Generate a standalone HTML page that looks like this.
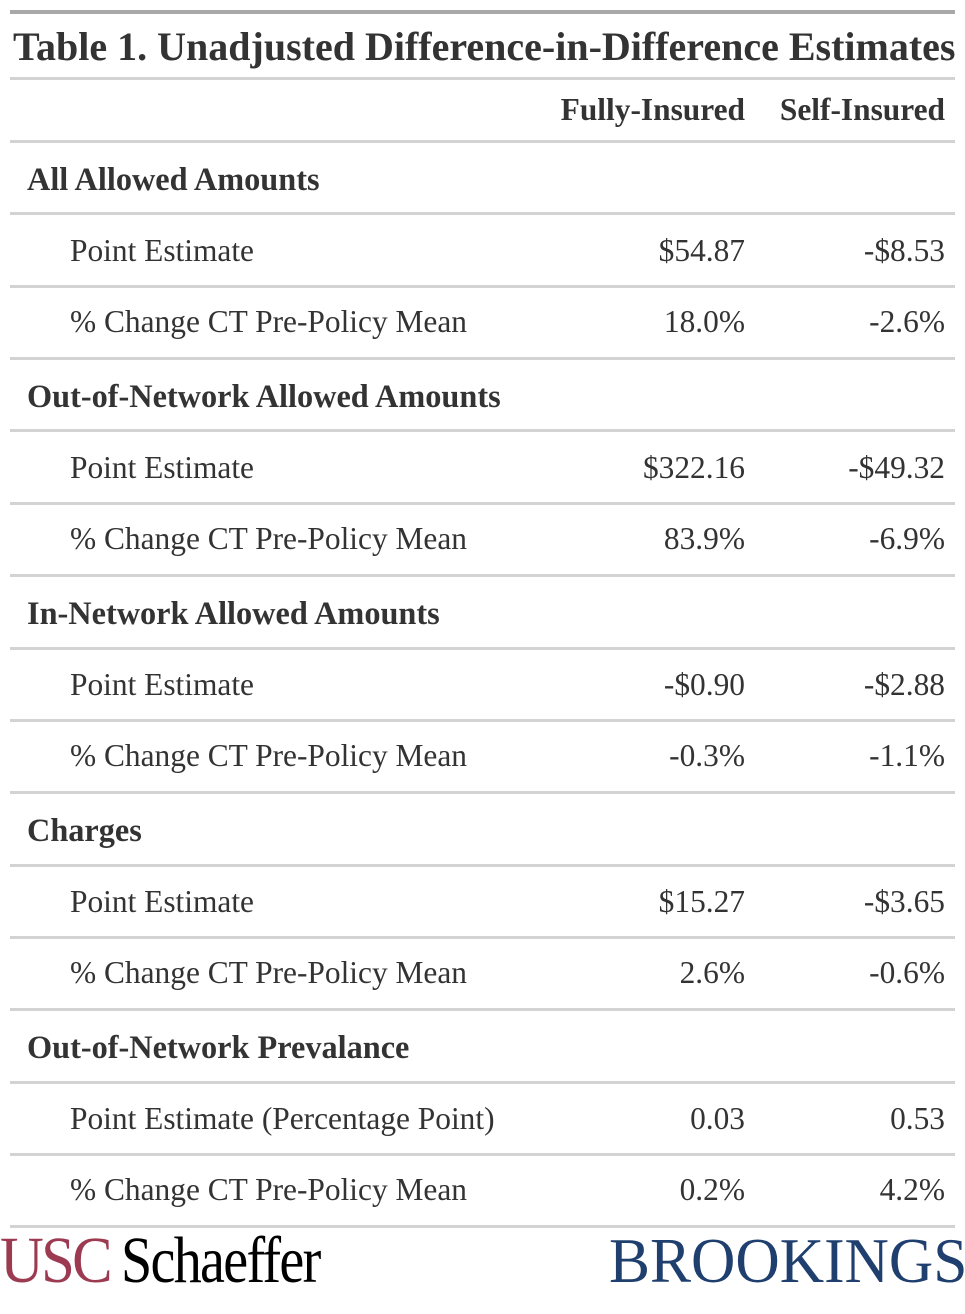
<!DOCTYPE html>
<html><head><style>
body{margin:0;width:965px;height:1314px;background:#fff;position:relative;overflow:hidden;font-family:"Liberation Serif",serif;color:#333}
.l{position:absolute;left:10px;width:945px;height:3px;background:#d3d3d3}
.t{position:absolute;font-size:31.4px;line-height:34px;white-space:nowrap}
.b{font-weight:bold}
.g{font-size:32.3px}
.r1{right:220px;text-align:right}
.r2{right:20px;text-align:right}
</style></head><body>
<div class="l" style="top:10px;height:4px;background:#a8a8a8"></div>
<div class="t b" style="left:13px;top:26px;font-size:40px;line-height:42px">Table 1. Unadjusted Difference-in-Difference Estimates</div>
<div class="l" style="top:77px"></div>
<div class="t b r1" style="top:93px">Fully-Insured</div>
<div class="t b r2" style="top:93px">Self-Insured</div>
<div class="l" style="top:140px"></div>

<div class="t b g" style="left:27px;top:162px">All Allowed Amounts</div>
<div class="l" style="top:212px"></div>
<div class="t" style="left:70px;top:234px">Point Estimate</div><div class="t r1" style="top:234px">$54.87</div><div class="t r2" style="top:234px">-$8.53</div>
<div class="l" style="top:285px"></div>
<div class="t" style="left:70px;top:305px">% Change CT Pre-Policy Mean</div><div class="t r1" style="top:305px">18.0%</div><div class="t r2" style="top:305px">-2.6%</div>
<div class="l" style="top:357px"></div>

<div class="t b g" style="left:27px;top:379px">Out-of-Network Allowed Amounts</div>
<div class="l" style="top:429px"></div>
<div class="t" style="left:70px;top:451px">Point Estimate</div><div class="t r1" style="top:451px">$322.16</div><div class="t r2" style="top:451px">-$49.32</div>
<div class="l" style="top:502px"></div>
<div class="t" style="left:70px;top:522px">% Change CT Pre-Policy Mean</div><div class="t r1" style="top:522px">83.9%</div><div class="t r2" style="top:522px">-6.9%</div>
<div class="l" style="top:574px"></div>

<div class="t b g" style="left:27px;top:596px">In-Network Allowed Amounts</div>
<div class="l" style="top:647px"></div>
<div class="t" style="left:70px;top:668px">Point Estimate</div><div class="t r1" style="top:668px">-$0.90</div><div class="t r2" style="top:668px">-$2.88</div>
<div class="l" style="top:719px"></div>
<div class="t" style="left:70px;top:739px">% Change CT Pre-Policy Mean</div><div class="t r1" style="top:739px">-0.3%</div><div class="t r2" style="top:739px">-1.1%</div>
<div class="l" style="top:791px"></div>

<div class="t b g" style="left:27px;top:813px">Charges</div>
<div class="l" style="top:864px"></div>
<div class="t" style="left:70px;top:885px">Point Estimate</div><div class="t r1" style="top:885px">$15.27</div><div class="t r2" style="top:885px">-$3.65</div>
<div class="l" style="top:936px"></div>
<div class="t" style="left:70px;top:956px">% Change CT Pre-Policy Mean</div><div class="t r1" style="top:956px">2.6%</div><div class="t r2" style="top:956px">-0.6%</div>
<div class="l" style="top:1008px"></div>

<div class="t b g" style="left:27px;top:1030px">Out-of-Network Prevalance</div>
<div class="l" style="top:1081px"></div>
<div class="t" style="left:70px;top:1102px">Point Estimate (Percentage Point)</div><div class="t r1" style="top:1102px">0.03</div><div class="t r2" style="top:1102px">0.53</div>
<div class="l" style="top:1153px"></div>
<div class="t" style="left:70px;top:1173px">% Change CT Pre-Policy Mean</div><div class="t r1" style="top:1173px">0.2%</div><div class="t r2" style="top:1173px">4.2%</div>
<div class="l" style="top:1225px"></div>

<div class="t" style="left:0;top:1228px;font-size:66px;line-height:66px;color:#9b3a50;transform:scaleX(0.92);transform-origin:0 0;letter-spacing:-3px">USC</div>
<div class="t" style="left:121px;top:1228px;font-size:66px;line-height:66px;color:#000;transform:scaleX(0.85);transform-origin:0 0;letter-spacing:-2px">Schaeffer</div>
<div class="t" style="left:609px;top:1228px;font-size:64px;line-height:66px;color:#1f3f6e;transform:scaleX(0.96);transform-origin:0 0">BROOKINGS</div>
</body></html>
